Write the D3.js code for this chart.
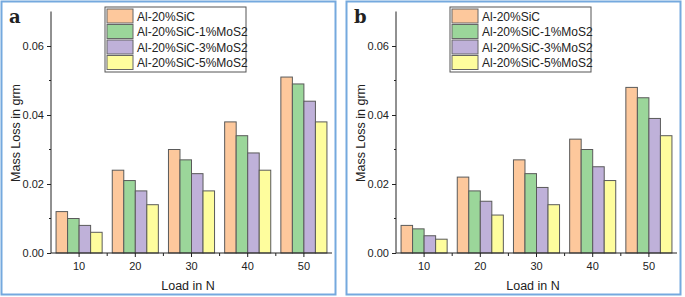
<!DOCTYPE html>
<html>
<head>
<meta charset="utf-8">
<script src="https://cdn.jsdelivr.net/npm/d3@7"></script>
<style>
  body { margin: 0; background: #fff; }
  text { font-family: Arial, "Liberation Sans", sans-serif; fill: #222; }
</style>
</head>
<body>
<svg id="chart" width="685" height="297"></svg>
<script>
var loads = ["10", "20", "30", "40", "50"];
var seriesNames = ["Al-20%SiC", "Al-20%SiC-1%MoS2", "Al-20%SiC-3%MoS2", "Al-20%SiC-5%MoS2"];
var colors = ["#fdc89c", "#9bd69a", "#bfb1d9", "#fefd9d"];

// panel a
var lossA_sic = [0.012, 0.024, 0.030, 0.038, 0.051];
var lossA_1 = [0.010, 0.021, 0.027, 0.034, 0.049];
var lossA_3 = [0.008, 0.018, 0.023, 0.029, 0.044];
var lossA_5 = [0.006, 0.014, 0.018, 0.024, 0.038];

// panel b
var lossB_sic = [0.008, 0.022, 0.027, 0.033, 0.048];
var lossB_1 = [0.007, 0.018, 0.023, 0.030, 0.045];
var lossB_3 = [0.005, 0.015, 0.019, 0.025, 0.039];
var lossB_5 = [0.004, 0.011, 0.014, 0.021, 0.034];

var yTicks = [0, 0.02, 0.04, 0.06];
var yMinor = [0.01, 0.03, 0.05];

var svg = d3.select("#chart");

function drawPanel(offsetX, label, series) {
  var g = svg.append("g").attr("transform", "translate(" + offsetX + ",0)");

  g.append("rect")
    .attr("x", 1.5).attr("y", 1.5)
    .attr("width", 334).attr("height", 293)
    .attr("fill", "#fff")
    .attr("stroke", "#75a9de")
    .attr("stroke-width", 2);

  var x = d3.scaleBand().domain(loads).range([51, 332]).paddingInner(0.18).paddingOuter(0.09);
  var xs = d3.scaleBand().domain(seriesNames).range([0, x.bandwidth()]);
  var y = d3.scaleLinear().domain([0, 0.07]).range([253, 11.5]);

  // bars
  var groups = g.selectAll(".grp")
    .data(loads)
    .enter().append("g")
      .attr("class", "grp")
      .attr("transform", function(d) { return "translate(" + x(d) + ",0)"; });

  groups.selectAll("rect")
    .data(function(d, i) {
      return series.map(function(s, j) { return {name: seriesNames[j], v: s[i], c: colors[j]}; });
    })
    .enter().append("rect")
      .attr("x", function(d) { return xs(d.name); })
      .attr("width", xs.bandwidth())
      .attr("y", function(d) { return y(d.v); })
      .attr("height", function(d) { return y(0) - y(d.v); })
      .attr("fill", function(d) { return d.c; })
      .attr("stroke", "#5a5a5a")
      .attr("stroke-width", 1);

  // y axis
  var yAxis = d3.axisLeft(y).tickValues(yTicks).tickFormat(d3.format(".2f")).tickSize(4).tickPadding(3);
  var ya = g.append("g").attr("transform", "translate(51,0)").call(yAxis);
  ya.select(".domain").attr("d", "M0," + y(0.07) + "V" + y(0)).attr("stroke", "#222");
  ya.selectAll("text").style("font-size", "11px").attr("fill", "#222");
  ya.selectAll(".tick line").attr("stroke", "#222");
  g.append("g").selectAll("line")
    .data(yMinor)
    .enter().append("line")
      .attr("x1", 49).attr("x2", 51)
      .attr("y1", function(d) { return y(d); })
      .attr("y2", function(d) { return y(d); })
      .attr("stroke", "#222");

  // x axis
  var xAxis = d3.axisBottom(x).tickSize(4).tickPadding(5);
  var xa = g.append("g").attr("transform", "translate(0," + y(0) + ")").call(xAxis);
  xa.select(".domain").attr("d", "M51,0H332").attr("stroke", "#222");
  xa.selectAll("text").style("font-size", "11px").attr("fill", "#222");
  xa.selectAll(".tick line").attr("stroke", "#222");
  var bounds = loads.slice(1).map(function(d) { return x(d) - x.step() * x.paddingInner() / 2; });
  xa.selectAll(".bnd")
    .data(bounds)
    .enter().append("line")
      .attr("class", "bnd")
      .attr("x1", function(d) { return d; }).attr("x2", function(d) { return d; })
      .attr("y1", 0).attr("y2", 3)
      .attr("stroke", "#222");

  // axis titles
  g.append("text")
    .attr("transform", "translate(20,133) rotate(-90)")
    .attr("text-anchor", "middle")
    .style("font-size", "12.5px")
    .text("Mass Loss in grm");
  g.append("text")
    .attr("x", 188).attr("y", 290)
    .attr("text-anchor", "middle")
    .style("font-size", "12.5px")
    .text("Load in N");

  // panel letter
  g.append("text")
    .attr("x", 9).attr("y", 23)
    .style("font-family", "'DejaVu Serif', 'Liberation Serif', serif")
    .style("font-weight", "bold")
    .style("font-size", "18px")
    .attr("fill", "#111")
    .text(label);

  // legend
  var lg = g.append("g").attr("transform", "translate(105,7)");
  lg.append("rect")
    .attr("x", 0).attr("y", 0)
    .attr("width", 141).attr("height", 65)
    .attr("fill", "#fff")
    .attr("stroke", "#555")
    .attr("stroke-width", 1);
  var rows = lg.selectAll(".row")
    .data(seriesNames)
    .enter().append("g")
      .attr("class", "row")
      .attr("transform", function(d, i) { return "translate(2," + (2 + i * 15.5) + ")"; });
  rows.append("rect")
    .attr("width", 26).attr("height", 14)
    .attr("fill", function(d, i) { return colors[i]; })
    .attr("stroke", "#666");
  rows.append("text")
    .attr("x", 30).attr("y", 11.5)
    .style("font-size", "12px")
    .text(function(d) { return d; });
}

drawPanel(0, "a", [lossA_sic, lossA_1, lossA_3, lossA_5]);
drawPanel(345, "b", [lossB_sic, lossB_1, lossB_3, lossB_5]);
</script>
</body>
</html>
